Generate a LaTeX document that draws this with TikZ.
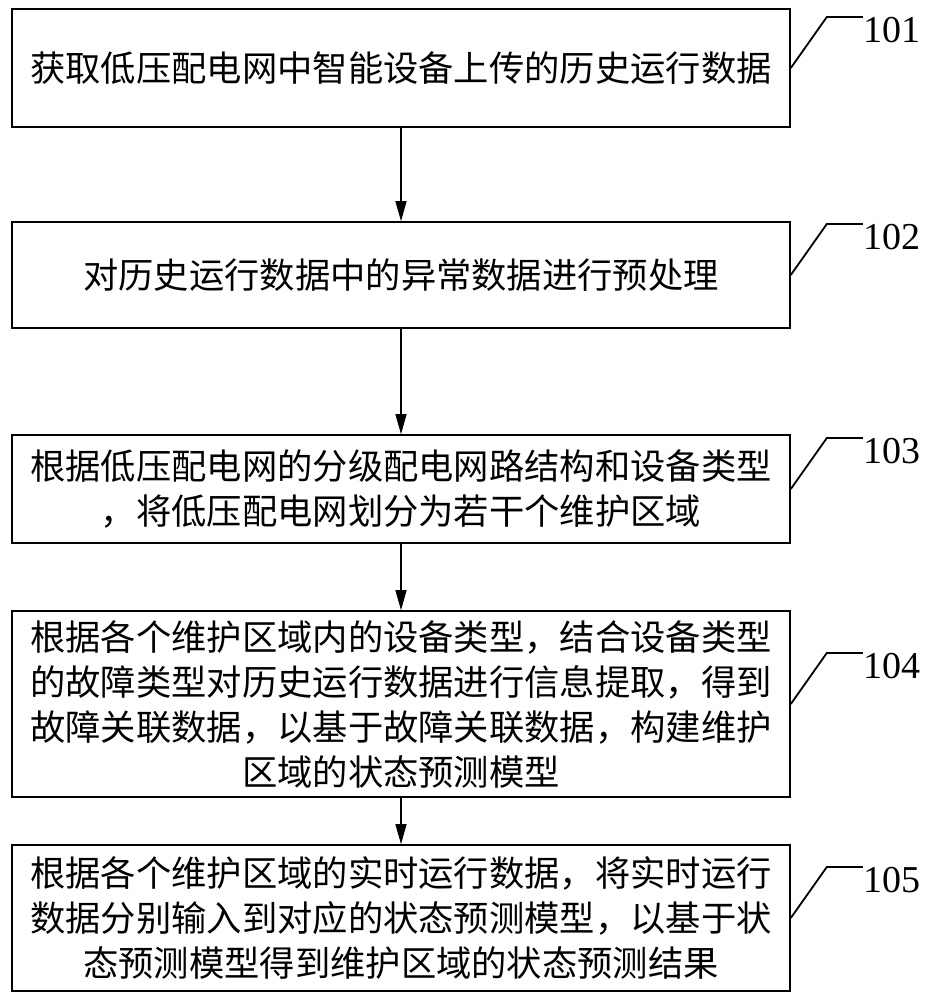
\documentclass[tikz,border=0pt]{standalone}
\usepackage{fontspec}
\setmainfont{Liberation Serif}
\newfontfamily\cjk{Noto Sans CJK SC}
\usetikzlibrary{arrows.meta}
\tikzset{
  stepbox/.style={draw, line width=1.6pt, minimum width=778pt, align=center, inner sep=0pt,
    font=\cjk\fontsize{35.3}{45}\selectfont},
  tag/.style={anchor=north west, inner sep=0pt, font=\fontsize{38}{40}\selectfont},
  flow/.style={line width=1.2pt, -{Triangle[length=20pt,width=11pt]}}
}
\begin{document}
\begin{tikzpicture}[x=1pt,y=-1pt]
  \useasboundingbox (0,0) rectangle (933,1000);
  \node[stepbox, minimum height=118pt] (s1) at (401,68) {获取低压配电网中智能设备上传的历史运行数据};
  \node[stepbox, minimum height=106pt] (s2) at (401,275) {对历史运行数据中的异常数据进行预处理};
  \node[stepbox, minimum height=108pt] (s3) at (401,489) {根据低压配电网的分级配电网路结构和设备类型\\，将低压配电网划分为若干个维护区域};
  \node[stepbox, minimum height=186pt] (s4) at (401,704) {根据各个维护区域内的设备类型，结合设备类型\\的故障类型对历史运行数据进行信息提取，得到\\故障关联数据，以基于故障关联数据，构建维护\\区域的状态预测模型};
  \node[stepbox, minimum height=146pt] (s5) at (401,918) {根据各个维护区域的实时运行数据，将实时运行\\数据分别输入到对应的状态预测模型，以基于状\\态预测模型得到维护区域的状态预测结果};
  \draw[flow] (s1.south) -- (s2.north);
  \draw[flow] (s2.south) -- (s3.north);
  \draw[flow] (s3.south) -- (s4.north);
  \draw[flow] (s4.south) -- (s5.north);
  \foreach \i in {1,...,5}{
    \node[tag] (t\i) at ([shift={(72,-51)}]s\i.east) {10\i};
    \draw[line width=1.8pt] (s\i.east) -- ++(36,-51) -- (t\i.north west);
  }
\end{tikzpicture}
\end{document}
